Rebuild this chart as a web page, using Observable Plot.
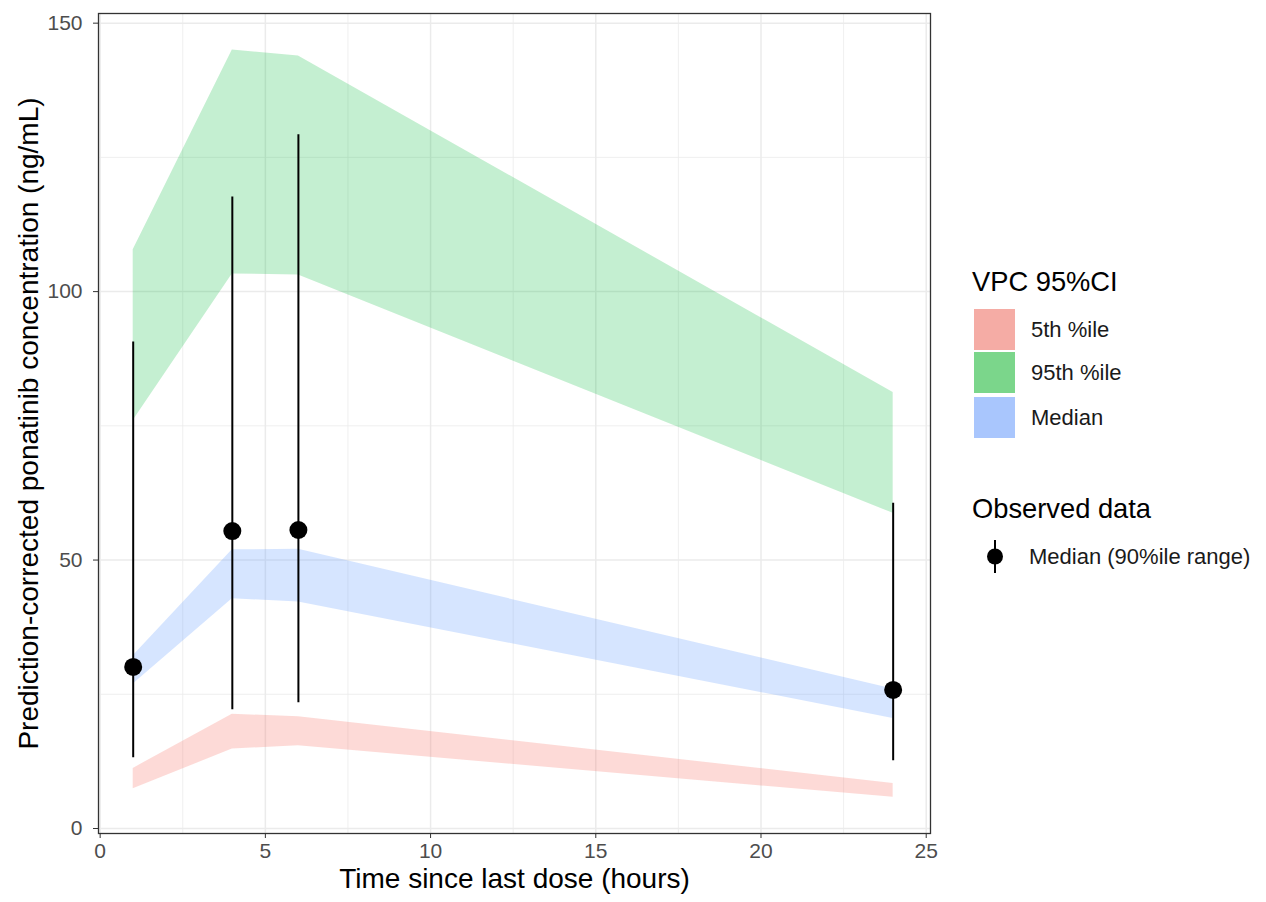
<!DOCTYPE html>
<html>
<head>
<meta charset="utf-8">
<script src="https://cdn.jsdelivr.net/npm/d3@7"></script>
<script src="https://cdn.jsdelivr.net/npm/@observablehq/plot@0.6"></script>
<style>
  body { margin: 0; background: #fff; font-family: "Liberation Sans", Arial, sans-serif; }
  #wrap { position: relative; width: 1266px; height: 902px; }
  #chart { position: absolute; left: 0; top: 0; }
  .legend { position: absolute; left: 972px; color: #000; }
  .lg-title { font-size: 27.3px; position: absolute; white-space: nowrap; }
  .lg-item { position: absolute; display: flex; align-items: center; white-space: nowrap; font-size: 22px; color: #1a1a1a; }
  .lg-key { width: 41px; height: 41px; margin-right: 16px; margin-left: 2px; }
</style>
</head>
<body>
<div id="wrap">
  <div id="chart"></div>
  <div class="legend" style="top:0">
    <div class="lg-title" style="top:266px">VPC 95%CI</div>
    <div class="lg-item" style="top:309px"><div class="lg-key" style="background:#f5aca5"></div>5th %ile</div>
    <div class="lg-item" style="top:352px"><div class="lg-key" style="background:#7bd68b"></div>95th %ile</div>
    <div class="lg-item" style="top:397px"><div class="lg-key" style="background:#a9c6fd"></div>Median</div>
    <div class="lg-title" style="top:493px">Observed data</div>
    <div class="lg-item" style="top:536px">
      <svg width="43" height="41" style="margin-right:14px">
        <line x1="23" x2="23" y1="4" y2="37" stroke="#000" stroke-width="2"></line>
        <circle cx="23" cy="20.5" r="8" fill="#000"></circle>
      </svg>Median (90%ile range)
    </div>
  </div>
</div>
<script>
// Nominal sampling times (hours after last dose)
const times = [1, 4, 6, 24];

// 95% CI of simulated 5th percentile
const p05Low  = [7.4, 14.8, 15.4, 5.8];
const p05High = [11.2, 21.3, 20.8, 8.4];

// 95% CI of simulated 95th percentile
const p95Low  = [76.0, 103.3, 103.1, 58.7];
const p95High = [107.8, 145.0, 143.9, 81.2];

// 95% CI of simulated median
const p50Low  = [26.9, 42.8, 42.2, 20.5];
const p50High = [32.2, 51.9, 52.0, 26.0];

// Observed data: median and 5th–95th percentile range
const obsMedian = [30.1, 55.4, 55.6, 25.8];
const obsLow    = [13.2, 22.1, 23.4, 12.6];
const obsHigh   = [90.6, 117.6, 129.2, 60.6];

const xTicks = [0, 5, 10, 15, 20, 25];
const xMinor = [2.5, 7.5, 12.5, 17.5, 22.5];
const yTicks = [0, 50, 100, 150];
const yMinor = [25, 75, 125];

const bands = [
  { name: "5th %ile",  low: p05Low, high: p05High, color: "#F8766D", opacity: 0.27 },
  { name: "95th %ile", low: p95Low, high: p95High, color: "#00BA38", opacity: 0.23 },
  { name: "Median",    low: p50Low, high: p50High, color: "#619CFF", opacity: 0.26 }
];

const bandRows = bands.flatMap(b => times.map((t, i) => ({ band: b.name, t, low: b.low[i], high: b.high[i] })));
const obs = times.map((t, i) => ({ t, med: obsMedian[i], lo: obsLow[i], hi: obsHigh[i] }));

const grid = "#ebebeb";
const tickText = "#4d4d4d";

const chart = Plot.plot({
  width: 940,
  height: 902,
  marginLeft: 98,
  marginRight: 10,
  marginTop: 13,
  marginBottom: 69,
  style: { fontFamily: "Liberation Sans, Arial, sans-serif", background: "#fff" },
  x: { domain: [-0.05, 25.13] },
  y: { domain: [-0.93, 151.8] },
  marks: [
    // panel grid
    Plot.ruleX(xMinor, { stroke: grid, strokeWidth: 0.8 }),
    Plot.ruleY(yMinor, { stroke: grid, strokeWidth: 0.8 }),
    Plot.ruleX(xTicks, { stroke: grid, strokeWidth: 1.5 }),
    Plot.ruleY(yTicks, { stroke: grid, strokeWidth: 1.5 }),
    // simulated confidence bands
    ...bands.map(b => Plot.areaY(bandRows.filter(d => d.band === b.name), {
      x: "t", y1: "low", y2: "high", fill: b.color, fillOpacity: b.opacity
    })),
    // observed percentiles
    Plot.ruleX(obs, { x: "t", y1: "lo", y2: "hi", stroke: "#000", strokeWidth: 2 }),
    Plot.dot(obs, { x: "t", y: "med", r: 9, fill: "#000" }),
    // axis ticks
    Plot.axisX(xTicks, { tickSize: 5, tickFormat: () => "", color: "#333", label: null }),
    Plot.axisY(yTicks, { tickSize: 5, tickFormat: () => "", color: "#333", label: null }),
    // tick labels
    Plot.text(xTicks, { x: d => d, frameAnchor: "bottom", dy: 24, fontSize: 21, fill: tickText, text: d => String(d) }),
    Plot.text(yTicks, { y: d => d, frameAnchor: "left", textAnchor: "end", dx: -16, fontSize: 21, fill: tickText, text: d => String(d) }),
    Plot.frame({ stroke: "#333", strokeWidth: 1.3 }),
    // axis titles
    Plot.text(["Time since last dose (hours)"], {
      frameAnchor: "bottom", dy: 54, fontSize: 28, fill: "#000", text: d => d
    }),
    Plot.text(["Prediction-corrected ponatinib concentration (ng/mL)"], {
      frameAnchor: "left", textAnchor: "middle", dx: -69, rotate: -90, fontSize: 28, fill: "#000", text: d => d
    })
  ]
});
document.getElementById("chart").appendChild(chart);
</script>
</body>
</html>
